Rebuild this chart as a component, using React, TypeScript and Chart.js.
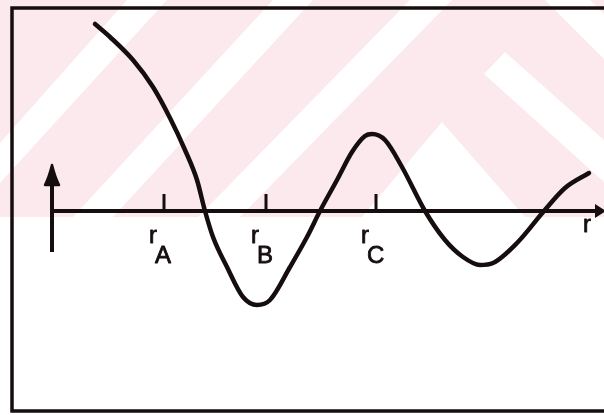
import React, { useEffect, useRef } from "react";
import { Chart, registerables } from "chart.js";

Chart.register(...registerables);

// Radial coordinate r (units of 100 px at the drawn scale) and the wave amplitude at each r
const rValues = [
  0.43, 0.58, 0.81, 1.01, 1.18, 1.33, 1.45, 1.53, 1.61, 1.75, 1.91, 2.05, 2.18,
  2.38, 2.55, 2.68, 2.85, 3.0, 3.13, 3.2, 3.33, 3.5, 3.73, 3.93, 4.11, 4.28,
  4.41, 4.65, 4.92, 5.13, 5.37,
];
const psiValues = [
  1.87, 1.74, 1.51, 1.24, 0.93, 0.61, 0.31, 0.0, -0.26, -0.56, -0.86, -0.94,
  -0.89, -0.56, -0.26, 0.0, 0.31, 0.59, 0.75, 0.77, 0.71, 0.44, 0.0, -0.29,
  -0.46, -0.54, -0.52, -0.32, 0.0, 0.23, 0.38,
];

// Marked radii on the r axis and their subscripts
const tickR = [1.12, 2.14, 3.24];
const tickSubscripts = ["A", "B", "C"];
const axisName = "r";

// Axis extents
const rMin = -0.4;
const rMax = 5.52;
const psiMin = -2.0;
const psiMax = 2.03;
const upArrowFrom = -0.41;
const upArrowTo = 0.46;

const INK = "#150d0e";
const LABEL_FONT = "24px 'Liberation Sans', Arial, sans-serif";

// Pale pink banner with white diagonal bands behind the upper half
const bannerPlugin = {
  id: "banner",
  beforeDraw(chart: any) {
    const ctx = chart.ctx;
    const w = chart.width;
    ctx.save();
    ctx.fillStyle = "#fce9ed";
    ctx.fillRect(0, 0, w, 217);
    ctx.fillStyle = "#ffffff";
    const shapes: number[][][] = [
      [[0, 143], [0, 183], [167, 0], [127, 0]],
      [[73, 217], [113, 217], [313, 0], [273, 0]],
      [[198, 217], [240, 217], [452, 0], [410, 0]],
      [[362, 217], [442, 122], [525, 217]],
      [[505, 52], [604, 140], [604, 182], [484, 74]],
      [[545, 0], [590, 0], [604, 14], [604, 59]],
    ];
    for (const poly of shapes) {
      ctx.beginPath();
      poly.forEach(([x, y], i) => (i ? ctx.lineTo(x, y) : ctx.moveTo(x, y)));
      ctx.closePath();
      ctx.fill();
    }
    ctx.restore();
  },
};

// Frame, r axis with arrow, vertical arrow, marked radii and their labels
const axesPlugin = {
  id: "sketchAxes",
  beforeDatasetsDraw(chart: any) {
    const { ctx, chartArea, scales } = chart;
    const xs = scales.x;
    const ys = scales.y;
    const x0 = xs.getPixelForValue(0);
    const y0 = ys.getPixelForValue(0);
    ctx.save();
    ctx.strokeStyle = INK;
    ctx.fillStyle = INK;
    ctx.lineCap = "butt";

    // open frame (left, top, bottom)
    ctx.lineWidth = 3.5;
    ctx.beginPath();
    ctx.moveTo(chart.width, chartArea.top);
    ctx.lineTo(chartArea.left, chartArea.top);
    ctx.lineTo(chartArea.left, chartArea.bottom);
    ctx.lineTo(chart.width, chartArea.bottom);
    ctx.stroke();

    // r axis
    const xEnd = xs.getPixelForValue(rMax) + 2;
    ctx.lineWidth = 4;
    ctx.beginPath();
    ctx.moveTo(x0, y0);
    ctx.lineTo(xEnd - 8, y0);
    ctx.stroke();
    ctx.beginPath();
    ctx.moveTo(xEnd, y0);
    ctx.lineTo(xEnd - 11, y0 - 7);
    ctx.lineTo(xEnd - 11, y0 + 7);
    ctx.closePath();
    ctx.fill();

    // vertical arrow
    const yb = ys.getPixelForValue(upArrowFrom);
    const yt = ys.getPixelForValue(upArrowTo);
    ctx.beginPath();
    ctx.moveTo(x0, yb);
    ctx.lineTo(x0, yt + 14);
    ctx.stroke();
    ctx.lineJoin = "round";
    ctx.lineWidth = 2.5;
    ctx.beginPath();
    ctx.moveTo(x0, yt);
    ctx.quadraticCurveTo(x0 - 3, yt + 12, x0 - 7, yt + 20);
    ctx.lineTo(x0 + 7, yt + 20);
    ctx.quadraticCurveTo(x0 + 3, yt + 12, x0, yt);
    ctx.closePath();
    ctx.fill();
    ctx.stroke();

    // marked radii
    ctx.lineWidth = 3;
    ctx.font = LABEL_FONT;
    ctx.textBaseline = "alphabetic";
    ctx.textAlign = "left";
    ctx.lineWidth = 0.8;
    tickR.forEach((r, i) => {
      const px = xs.getPixelForValue(r);
      ctx.lineWidth = 3;
      ctx.beginPath();
      ctx.moveTo(px, y0);
      ctx.lineTo(px, y0 - 17);
      ctx.stroke();
      ctx.lineWidth = 0.8;
      ctx.fillText("r", px - 15, y0 + 32);
      ctx.strokeText("r", px - 15, y0 + 32);
      ctx.fillText(tickSubscripts[i], px - 9, y0 + 52);
      ctx.strokeText(tickSubscripts[i], px - 9, y0 + 52);
    });

    // axis name
    const nx = xs.getPixelForValue(rMax) - 21;
    ctx.fillText(axisName, nx, y0 + 21);
    ctx.strokeText(axisName, nx, y0 + 21);
    ctx.restore();
  },
};

export default function App() {
  const canvasRef = useRef<HTMLCanvasElement | null>(null);

  useEffect(() => {
    const canvas = canvasRef.current;
    if (!canvas) return;
    const chart = new Chart(canvas, {
      type: "line",
      data: {
        datasets: [
          {
            data: rValues.map((r, i) => ({ x: r, y: psiValues[i] })),
            borderColor: INK,
            borderWidth: 4.5,
            pointRadius: 0,
            cubicInterpolationMode: "monotone",
            fill: false,
            borderCapStyle: "round",
            borderJoinStyle: "round",
          },
        ],
      },
      options: {
        responsive: false,
        animation: false,
        devicePixelRatio: 1,
        layout: { padding: { left: 12, top: 8, right: 0, bottom: 4 } },
        plugins: {
          legend: { display: false },
          tooltip: { enabled: false },
        },
        scales: {
          x: { type: "linear", display: false, min: rMin, max: rMax },
          y: { type: "linear", display: false, min: psiMin, max: psiMax },
        },
      },
      plugins: [bannerPlugin, axesPlugin],
    });
    return () => chart.destroy();
  }, []);

  return (
    <div
      style={{
        position: "absolute",
        left: 0,
        top: 0,
        width: 604,
        height: 415,
        background: "#ffffff",
      }}
    >
      <canvas ref={canvasRef} width={604} height={415} />
    </div>
  );
}
